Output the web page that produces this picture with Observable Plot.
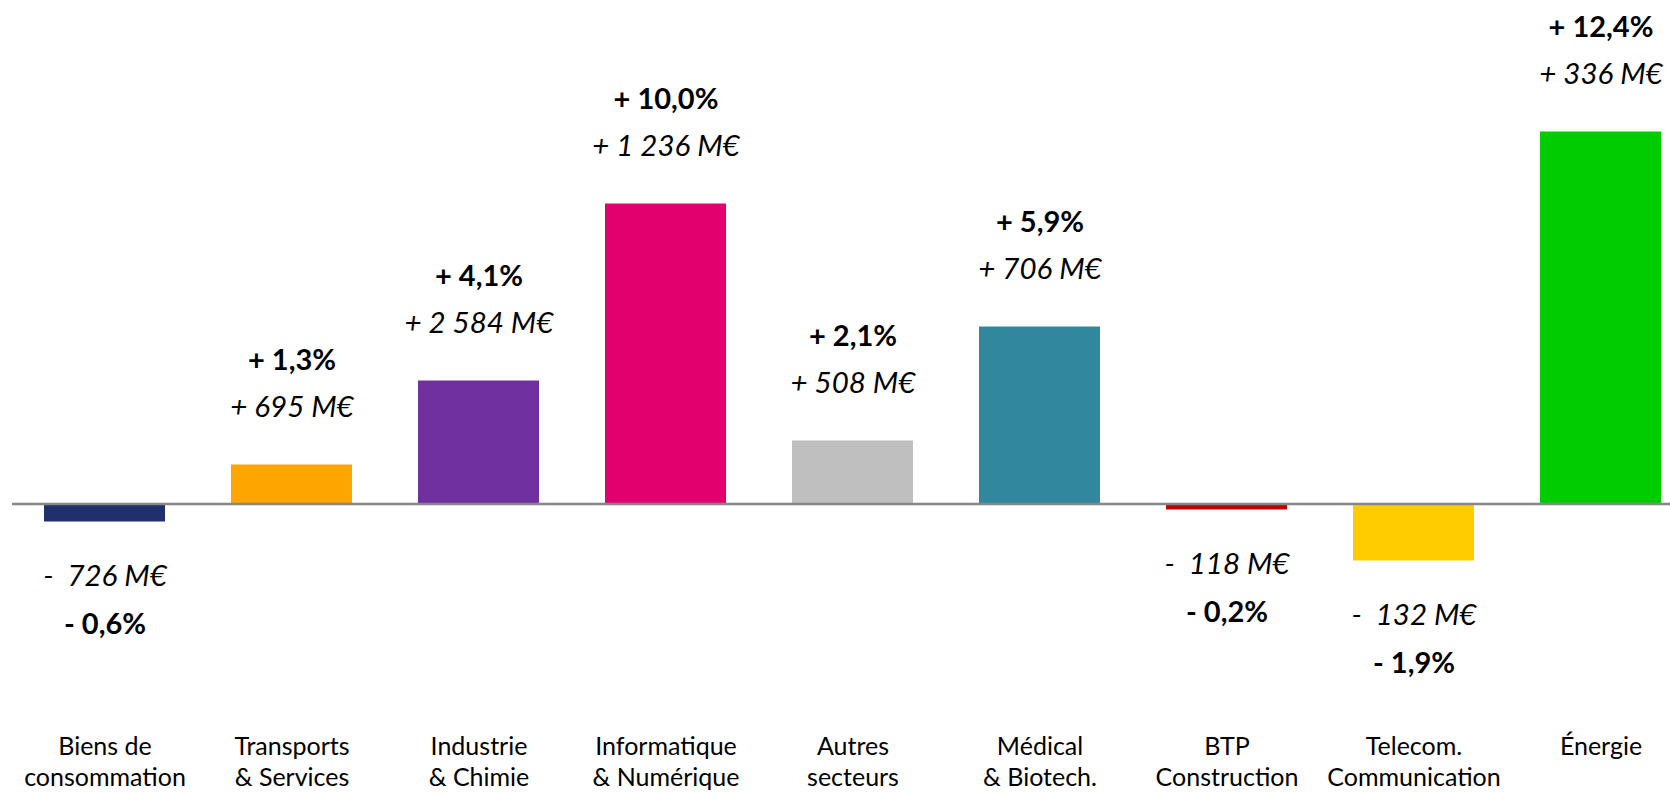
<!DOCTYPE html>
<html><head><meta charset="utf-8">
<script src="https://cdn.jsdelivr.net/npm/d3@7"></script>
<script src="https://cdn.jsdelivr.net/npm/@observablehq/plot@0.6"></script>
<style>body{margin:0;background:#fff}</style>
</head><body><div id="chart"></div>
<script>
const sectors = ["Biens de\nconsommation", "Transports\n& Services", "Industrie\n& Chimie", "Informatique\n& Numérique", "Autres\nsecteurs", "Médical\n& Biotech.", "BTP\nConstruction", "Telecom.\nCommunication", "Énergie"];
const changePct = [-0.6, 1.3, 4.1, 10.0, 2.1, 5.9, -0.2, -1.9, 12.4];
const pctLabels = ["- 0,6%", "+ 1,3%", "+ 4,1%", "+ 10,0%", "+ 2,1%", "+ 5,9%", "- 0,2%", "- 1,9%", "+ 12,4%"];
const amountLabels = ["-\u00a0 726 M€", "+ 695 M€", "+ 2 584 M€", "+ 1 236 M€", "+ 508 M€", "+ 706 M€", "-\u00a0 118 M€", "-\u00a0 132 M€", "+ 336 M€"];
const colors = ["#212F6D", "#FFA500", "#7030A0", "#E2006F", "#BFBFBF", "#31879E", "#C00000", "#FFCC00", "#00CC00"];

const data = sectors.map((s, i) => ({sector: s, value: changePct[i], pct: pctLabels[i], amount: amountLabels[i]}));
const pos = data.filter(d => d.value >= 0);
const neg = data.filter(d => d.value < 0);
const font = "Lato, 'Open Sans', sans-serif";

const chart = Plot.plot({
  width: 1670, height: 792,
  marginLeft: 44, marginRight: 9, marginTop: 53.5, marginBottom: 63.5,
  style: {fontFamily: font, background: "#fff", color: "#000"},
  x: {domain: sectors, paddingInner: 0.353, paddingOuter: 0, label: null, axis: null},
  y: {domain: [-7.5, 15], axis: null},
  color: {domain: sectors, range: colors},
  marks: [
    Plot.barY(data, {x: "sector", y: "value", fill: "sector"}),
    Plot.ruleY([0], {stroke: "#868686", strokeWidth: 2.5, insetLeft: -32, insetRight: -9}),
    Plot.text(pos, {x: "sector", y: "value", text: "amount", dy: -57, fontSize: 29.5, fontStyle: "italic", fill: "#000"}),
    Plot.text(pos, {x: "sector", y: "value", text: "pct", dy: -104, fontSize: 29, fontWeight: "bold", fill: "#000"}),
    Plot.text(neg, {x: "sector", y: "value", text: "amount", dy: 55, fontSize: 29.5, fontStyle: "italic", fill: "#000"}),
    Plot.text(neg, {x: "sector", y: "value", text: "pct", dy: 103, fontSize: 29, fontWeight: "bold", fill: "#000"}),
    Plot.axisX({tickSize: 0, tickPadding: 3, fontSize: 25, lineHeight: 1.27, label: null, lineAnchor: "top"})
  ]
});
document.getElementById("chart").append(chart);
</script>
</body></html>
